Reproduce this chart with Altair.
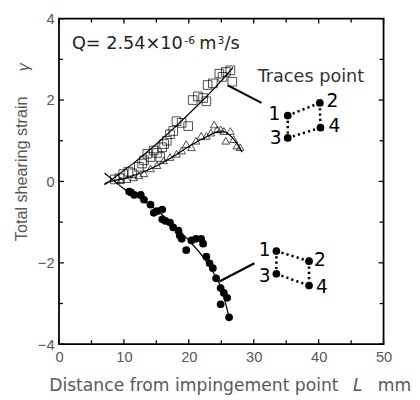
import altair as alt
import pandas as pd

# ---------------- data ----------------
# open squares
sq_x = [8.6, 9.3, 9.9, 10.7, 11.3, 12.3, 12.8, 13.1, 13.6, 14.1, 14.6, 15.1, 15.6, 15.9, 16.2, 16.6, 17.1, 17.6,
        18.1, 18.9, 19.9, 20.6, 21.4, 22.2, 22.7, 22.9, 23.7, 24.7, 25.2, 25.7, 26.4, 26.7]
sq_y = [0.05, 0.08, 0.18, 0.24, 0.20, 0.36, 0.44, 0.52, 0.68, 0.60, 0.76, 0.70, 0.60, 0.84, 0.92, 1.00, 1.16, 1.24,
        1.48, 1.44, 1.36, 2.00, 2.09, 2.05, 1.97, 2.37, 2.41, 2.65, 2.57, 2.69, 2.73, 2.45]
# open triangles
tr_x = [9.5, 10.5, 11.5, 12.3, 13.1, 14.1, 15.1, 16.1, 17.1, 18.1, 18.9, 19.6, 20.4, 21.1, 21.9, 22.7,
        23.4, 23.9, 24.4, 24.9, 25.4, 25.7, 26.4, 26.9, 27.4, 27.9]
tr_y = [0.03, 0.06, 0.10, 0.15, 0.20, 0.32, 0.40, 0.52, 0.60, 0.68, 0.76, 0.92, 0.84, 1.00, 1.12, 1.12,
        1.20, 1.40, 1.28, 1.28, 1.24, 1.00, 1.24, 1.04, 0.88, 0.84]
# filled circles
ci_x = [10.8, 11.1, 11.6, 12.6, 13.1, 14.1, 14.6, 15.1, 15.9, 15.9, 16.4, 17.1, 17.6, 18.4, 18.6, 18.9, 19.6,
        20.4, 21.1, 21.9, 22.2, 22.7, 23.2, 23.7, 24.2, 24.9, 25.4, 24.9, 25.9, 26.2]
ci_y = [-0.25, -0.27, -0.33, -0.33, -0.45, -0.57, -0.77, -0.73, -0.69, -0.93, -0.97, -1.01, -1.13, -1.21, -1.33,
        -1.41, -1.69, -1.45, -1.41, -1.41, -1.53, -1.85, -2.01, -2.13, -2.38, -2.62, -2.74, -3.02, -2.86, -3.34]

# fitted curves
sq_line_x = [7.0, 8.0, 10.0, 12.5, 15.0, 17.5, 20.0, 22.5, 25.0, 26.8]
sq_line_y = [-0.08, 0.03, 0.27, 0.58, 0.92, 1.28, 1.66, 2.05, 2.47, 2.80]
tr_line_x = [7.0, 8.0, 10.0, 12.5, 15.0, 17.5, 20.0, 22.5, 24.0, 25.0, 26.0, 27.0, 28.2]
tr_line_y = [-0.05, 0.0, 0.07, 0.20, 0.38, 0.60, 0.86, 1.08, 1.20, 1.24, 1.18, 1.02, 0.72]
ci_line_x = [7.0, 8.0, 10.0, 12.5, 15.0, 17.5, 20.0, 22.5, 24.0, 25.0, 26.3]
ci_line_y = [0.20, 0.08, -0.18, -0.42, -0.70, -1.05, -1.45, -1.92, -2.30, -2.62, -3.42]

# axis ticks
x_major = [0, 10, 20, 30, 40, 50]
x_minor = [5, 15, 25, 35, 45]
y_major = [-4, -2, 0, 2, 4]
y_minor = [-3, -1, 1, 3]

# leader lines
lead_top_x = [26.0, 31.2]
lead_top_y = [2.36, 1.93]
lead_bot_x = [24.7, 30.1]
lead_bot_y = [-2.46, -2.01]

# trace-point diagrams (points 1,2,3,4)
tp_top_x = [35.24, 40.18, 35.24, 40.28]
tp_top_y = [1.62, 1.93, 1.07, 1.32]
tp_bot_x = [33.49, 38.52, 33.49, 38.52]
tp_bot_y = [-1.71, -1.96, -2.27, -2.56]
tp_labels = ["1", "2", "3", "4"]
edges = [(0, 1), (0, 2), (2, 3), (1, 3)]

# ---------------- building ----------------
W, H = 331, 332
xs = alt.Scale(domain=[0, 50], nice=False, zero=False)
ys = alt.Scale(domain=[-4, 4], nice=False, zero=False)
xaxis = alt.Axis(title=None, values=x_major, ticks=False, domain=False, grid=False,
                 labelFont="Liberation Sans", labelFontSize=15, labelColor="#595959",
                 labelPadding=6, labelFlush=False)
yaxis = alt.Axis(title=None, values=y_major, ticks=False, domain=False, grid=False,
                 labelFont="Liberation Sans", labelFontSize=15, labelColor="#595959",
                 labelPadding=5, labelFlush=False)
X = alt.X("x:Q", scale=xs, axis=xaxis)
Y = alt.Y("y:Q", scale=ys, axis=yaxis)


def df(xv, yv, **extra):
    d = pd.DataFrame({"x": xv, "y": yv})
    for k, v in extra.items():
        d[k] = v
    return d


layers = []

# markers
layers.append(alt.Chart(df(sq_x, sq_y)).mark_point(shape="square", size=78, filled=False,
                                                   stroke="black", strokeWidth=1).encode(x=X, y=Y))
layers.append(alt.Chart(df(tr_x, tr_y)).mark_point(shape="triangle-up", size=62, filled=False,
                                                   stroke="black", strokeWidth=1).encode(x=X, y=Y))
layers.append(alt.Chart(df(ci_x, ci_y)).mark_point(shape="circle", size=62, filled=True,
                                                   fill="black", opacity=1).encode(x=X, y=Y))

# fitted lines
for lx, ly in [(sq_line_x, sq_line_y), (tr_line_x, tr_line_y), (ci_line_x, ci_line_y)]:
    layers.append(alt.Chart(df(lx, ly)).mark_line(color="black", strokeWidth=1.2,
                                                  interpolate="monotone").encode(x=X, y=Y))

# leader lines
for lx, ly in [(lead_top_x, lead_top_y), (lead_bot_x, lead_bot_y)]:
    layers.append(alt.Chart(df(lx, ly)).mark_line(color="black", strokeWidth=2.2).encode(x=X, y=Y))

# trace point diagrams
for px, py in [(tp_top_x, tp_top_y), (tp_bot_x, tp_bot_y)]:
    rows = []
    for i, (a, b) in enumerate(edges):
        rows.append({"x": px[a], "y": py[a], "e": i, "o": 0})
        rows.append({"x": px[b], "y": py[b], "e": i, "o": 1})
    layers.append(alt.Chart(pd.DataFrame(rows)).mark_line(color="black", strokeWidth=2.6,
                                                          strokeDash=[2.2, 3.2]).encode(
        x=X, y=Y, detail="e:N", order="o:Q"))
    layers.append(alt.Chart(df(px, py)).mark_point(shape="circle", size=62, filled=True,
                                                   fill="black", opacity=1).encode(x=X, y=Y))

# diagram digit labels
lab_top = df([34.1, 41.2, 34.3, 41.5], [1.66, 1.97, 1.06, 1.36], t=tp_labels,
             a=["right", "left", "right", "left"])
lab_bot = df([32.6, 39.3, 32.6, 39.6], [-1.69, -1.93, -2.32, -2.59], t=tp_labels,
             a=["right", "left", "right", "left"])
for lab in [lab_top, lab_bot]:
    for al in ["left", "right"]:
        sub = lab[lab["a"] == al]
        layers.append(alt.Chart(sub).mark_text(align=al, baseline="middle", font="DejaVu Sans",
                                               fontSize=19, color="black").encode(x=X, y=Y, text="t:N"))


def txt(xv, yv, s, **kw):
    style = dict(align="left", baseline="alphabetic", font="DejaVu Sans", fontSize=18, color="#222")
    style.update(kw)
    return alt.Chart(df([xv], [yv], t=[s])).mark_text(**style).encode(x=X, y=Y, text="t:N")


# Q annotation
layers.append(txt(2.0, 3.25, "Q= 2.54×10"))
layers.append(txt(19.3, 3.38, "-6", fontSize=11))
layers.append(txt(21.6, 3.25, "m"))
layers.append(txt(24.4, 3.38, "3", fontSize=11))
layers.append(txt(25.5, 3.25, "/s"))

# Traces point
layers.append(txt(30.6, 2.45, "Traces point", color="#333"))

# x title
layers.append(txt(-1.51, -5.15, "Distance from impingement point", fontSize=17.5, color="#595959"))
layers.append(txt(45.3, -5.15, "L", fontSize=17.5, color="#595959", fontStyle="italic"))
layers.append(txt(49.1, -5.15, "mm", fontSize=17.5, color="#595959"))

# y title
layers.append(txt(-5.66, 0.31, "Total shearing strain", font="Liberation Sans", fontSize=16.5,
                  color="#595959", angle=270, align="center", baseline="middle"))
layers.append(txt(-5.4, 2.81, "γ", font="Liberation Sans", fontSize=16.5, color="#595959",
                  angle=270, align="center", baseline="middle", fontStyle="italic"))

# inward ticks on all four sides
for vals, ln in [(x_major, 5), (x_minor, 4)]:
    d = pd.DataFrame({"x": vals})
    layers.append(alt.Chart(d).mark_rule(color="black", strokeWidth=1.3).encode(
        x=X, y=alt.value(H), y2=alt.value(H - ln)))
    layers.append(alt.Chart(d).mark_rule(color="black", strokeWidth=1.3).encode(
        x=X, y=alt.value(0), y2=alt.value(ln)))
for vals, ln in [(y_major, 5), (y_minor, 4)]:
    d = pd.DataFrame({"y": vals})
    layers.append(alt.Chart(d).mark_rule(color="black", strokeWidth=1.3).encode(
        y=Y, x=alt.value(0), x2=alt.value(ln)))
    layers.append(alt.Chart(d).mark_rule(color="black", strokeWidth=1.3).encode(
        y=Y, x=alt.value(W), x2=alt.value(W - ln)))

chart = alt.layer(*layers).properties(
    width=W, height=H,
    background="white",
    autosize=alt.AutoSizeParams(type="none"),
    padding={"left": 52, "top": 7, "right": 29, "bottom": 53},
).configure_view(stroke="black", strokeWidth=1.8)

chart.save("out.html", embed_options={"renderer": "svg", "actions": False})
